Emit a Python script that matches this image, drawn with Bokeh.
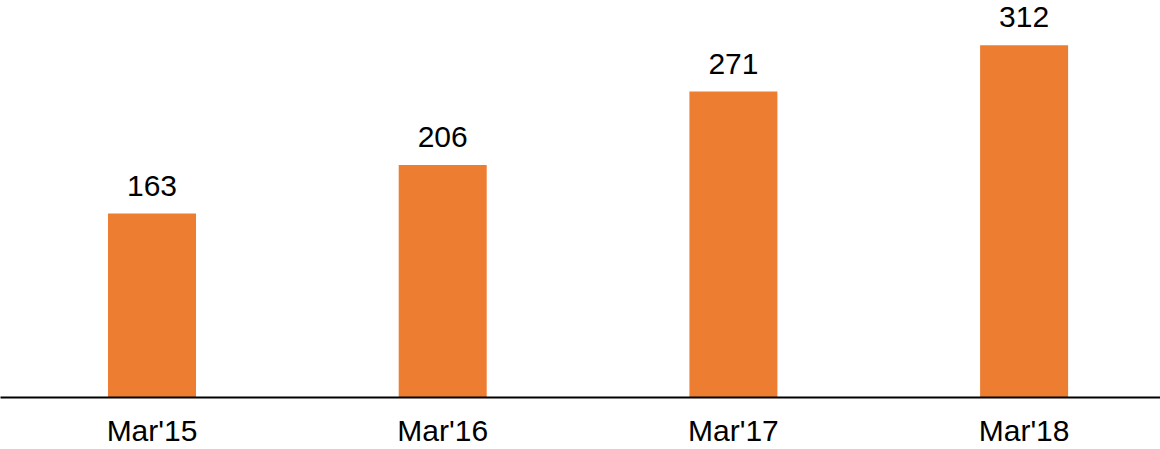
from bokeh.plotting import figure
from bokeh.models import Range1d, ColumnDataSource, FixedTicker
from bokeh.core.properties import value
from bokeh.embed import file_html
from bokeh.resources import INLINE

categories = ["Mar'15", "Mar'16", "Mar'17", "Mar'18"]
values = [163, 206, 271, 312]
labels = [str(v) for v in values]

xs = list(range(len(categories)))
src = ColumnDataSource(dict(x=xs, top=values, label=labels))

p = figure(width=1160, height=449, frame_width=1160, frame_height=397,
           output_backend="svg", toolbar_location=None,
           x_range=Range1d(-0.5212, 3.4692), y_range=Range1d(0, 351.7),
           min_border_left=0, min_border_right=0, min_border_top=0, min_border_bottom=0)
p.outline_line_color = None
p.background_fill_color = "white"
p.border_fill_color = "white"
p.xgrid.visible = False
p.ygrid.visible = False
p.yaxis.visible = False

p.vbar(x="x", top="top", bottom=0, width=0.3027, source=src,
       fill_color="#ED7D31", line_color=None)

p.text(x="x", y="top", text="label", source=src,
       text_align="center", text_baseline="alphabetic", y_offset=-28,
       text_font=value("Liberation Sans"), text_font_size="30px", text_color="black")

ax = p.xaxis[0]
ax.ticker = FixedTicker(ticks=xs)
ax.major_label_overrides = {i: c for i, c in enumerate(categories)}
ax.axis_line_color = "black"
ax.axis_line_width = 2
ax.major_tick_line_color = None
ax.minor_tick_line_color = None
ax.major_tick_out = 0
ax.major_tick_in = 0
ax.major_label_standoff = 16
ax.major_label_text_font = "Liberation Sans"
ax.major_label_text_font_size = "30px"
ax.major_label_text_color = "black"

open("out.html", "w").write(file_html(p, INLINE))
